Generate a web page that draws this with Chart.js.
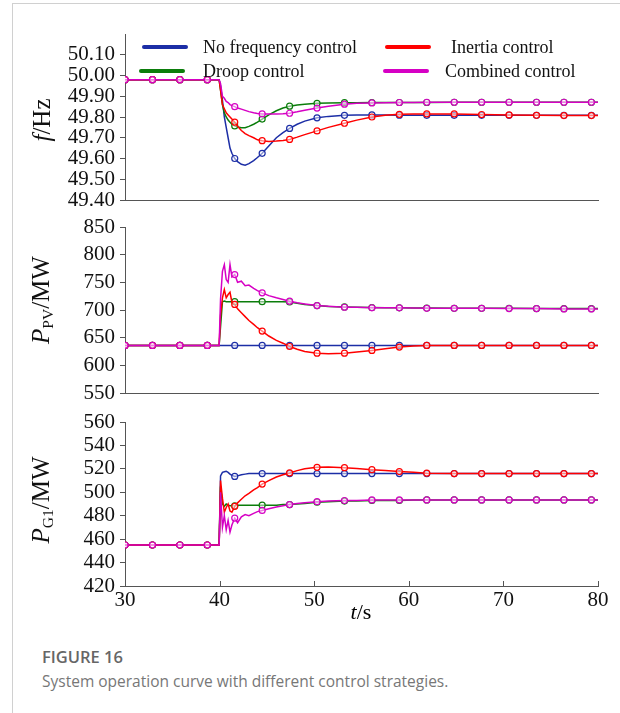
<!DOCTYPE html>
<html>
<head>
<meta charset="utf-8">
<script src="https://cdn.jsdelivr.net/npm/chart.js@4.4.1/dist/chart.umd.min.js"></script>
<style>
  body { margin: 0; background: #fff; }
  #wrap { position: relative; width: 620px; height: 713px; overflow: hidden; font-family: "Liberation Serif", serif; }
  #frame { position: absolute; left: 12px; top: 3px; right: -2px; bottom: -2px; border-left: 1px solid #d0d0d0; border-top: 1px solid #d0d0d0; }
  canvas { position: absolute; left: 0; }
  .yt { position: absolute; left: 42px; transform: translate(-50%, -50%) rotate(-90deg); white-space: nowrap; font-size: 25px; color: #111; }
  .yt sub { font-size: 0.62em; vertical-align: -0.25em; }
  .lg-line { position: absolute; height: 4px; width: 46px; border-radius: 2px; margin-top: -2px; }
  .lg-text { position: absolute; font-size: 18px; color: #111; transform: translateY(-50%); white-space: nowrap; }
  #xt { position: absolute; left: 361px; top: 612px; transform: translate(-50%, -50%); font-size: 22px; }
  #cap1 { position: absolute; left: 42px; top: 656px; transform: translateY(-50%); font-family: "Open Sans", sans-serif; font-weight: 600; font-size: 16.5px; color: #666; }
  #cap2 { position: absolute; left: 42px; top: 681px; transform: translateY(-50%); font-family: "Open Sans", sans-serif; font-size: 15.5px; color: #777; white-space: nowrap; }
</style>
</head>
<body>
<div id="wrap">
  <div id="frame"></div>
  <canvas id="cF" width="620" height="210" style="top:0px"></canvas>
  <canvas id="cPV" width="620" height="190" style="top:210px"></canvas>
  <canvas id="cG" width="620" height="230" style="top:400px"></canvas>

  <div class="yt" style="top:120px"><i>f</i>/Hz</div>
  <div class="yt" style="top:300px"><i>P</i><sub>PV</sub>/MW</div>
  <div class="yt" style="top:500px"><i>P</i><sub>G1</sub>/MW</div>

  <div class="lg-line" style="left:142px;top:47px;background:#1c2ea6"></div>
  <div class="lg-text" style="left:203px;top:47px">No frequency control</div>
  <div class="lg-line" style="left:385px;top:47px;background:#ff0000"></div>
  <div class="lg-text" style="left:451px;top:47px">Inertia control</div>
  <div class="lg-line" style="left:139px;top:71px;background:#0b7d0b"></div>
  <div class="lg-text" style="left:203px;top:71px">Droop control</div>
  <div class="lg-line" style="left:383px;top:71px;background:#d600c4"></div>
  <div class="lg-text" style="left:445px;top:71px">Combined control</div>

  <div id="xt"><i>t</i>/s</div>
  <div id="cap1">FIGURE 16</div>
  <div id="cap2">System operation curve with different control strategies.</div>
</div>

<script>
// time axis (s) and the times where markers are drawn
const T = [30, 32.9, 35.8, 38.7, 39.95, 40.1, 40.3, 40.5, 40.7, 40.9, 41.1, 41.3,
  41.6, 41.9, 42.3, 42.7, 43.1, 43.6, 44.0, 44.5, 45.2, 46.0, 46.7, 47.4, 48.2, 49.0,
  50.3, 51.5, 53.2, 54.5, 56.1, 57.5, 59.0, 60.5, 61.9, 64.8, 67.7, 70.6, 73.5, 76.4, 79.3, 80];
const MARK_T = [30, 32.9, 35.8, 38.7, 41.6, 44.5, 47.4, 50.3, 53.2, 56.1, 59.0, 61.9, 64.8, 67.7, 70.6, 73.5, 76.4, 79.3];

const SERIES = ["No frequency control", "Droop control", "Inertia control", "Combined control"];
const COLORS = ["#1c2ea6", "#0b7d0b", "#ff0000", "#d600c4"];
const DRAW_ORDER = [3, 2, 1, 0]; // combined on top, then inertia, droop, none

// frequency f / Hz
const F_NONE = [49.98, 49.98, 49.98, 49.98, 49.98, 49.95, 49.88, 49.80, 49.75, 49.70, 49.65, 49.625,
  49.60, 49.585, 49.572, 49.568, 49.575, 49.59, 49.605, 49.625, 49.66, 49.70, 49.725, 49.745, 49.765, 49.78,
  49.796, 49.803, 49.808, 49.81, 49.81, 49.81, 49.809, 49.808, 49.808, 49.808, 49.808, 49.808, 49.808, 49.808, 49.808, 49.808];
const F_DROOP = [49.98, 49.98, 49.98, 49.98, 49.98, 49.93, 49.86, 49.82, 49.80, 49.785, 49.775, 49.765,
  49.757, 49.752, 49.748, 49.748, 49.755, 49.765, 49.775, 49.79, 49.81, 49.83, 49.843, 49.852, 49.858, 49.862,
  49.866, 49.868, 49.869, 49.869, 49.87, 49.87, 49.87, 49.87, 49.87, 49.871, 49.871, 49.871, 49.871, 49.871, 49.871, 49.871];
const F_INERTIA = [49.98, 49.98, 49.98, 49.98, 49.98, 49.93, 49.86, 49.84, 49.82, 49.81, 49.80, 49.79,
  49.775, 49.755, 49.735, 49.72, 49.71, 49.70, 49.69, 49.686, 49.682, 49.684, 49.687, 49.692, 49.703, 49.715,
  49.733, 49.75, 49.77, 49.785, 49.80, 49.808, 49.813, 49.815, 49.815, 49.815, 49.812, 49.81, 49.808, 49.807, 49.807, 49.807];
const F_COMB = [49.98, 49.98, 49.98, 49.98, 49.98, 49.96, 49.90, 49.89, 49.875, 49.87, 49.86, 49.855,
  49.85, 49.843, 49.838, 49.832, 49.826, 49.82, 49.817, 49.815, 49.814, 49.815, 49.816, 49.818, 49.825, 49.833,
  49.843, 49.852, 49.862, 49.866, 49.868, 49.869, 49.87, 49.87, 49.871, 49.871, 49.871, 49.871, 49.871, 49.871, 49.871, 49.871];

// PV output P_PV / MW
const PV_NONE = [636, 636, 636, 636, 636, 636, 636, 636, 636, 636, 636, 636,
  636, 636, 636, 636, 636, 636, 636, 636, 636, 636, 636, 636, 636, 636,
  636, 636, 636, 636, 636, 636, 636, 636, 636, 636, 636, 636, 636, 636, 636, 636];
const PV_DROOP = [636, 636, 636, 636, 636, 670, 715, 716, 715, 715, 715, 715,
  715, 715, 715, 715, 715, 715, 715, 715, 715, 715, 715, 714.5, 712, 710,
  708, 706.5, 705.5, 705, 704.5, 704, 704, 703.5, 703.5, 703, 703, 703, 702.5, 702.5, 702.5, 702.5];
const PV_INERTIA = [636, 636, 636, 636, 636, 690, 722, 737, 722, 728, 732, 714,
  710, 702, 695, 688, 681, 674, 668, 662, 653, 645, 640, 634, 629, 625,
  622, 621, 622, 624, 627, 630, 633, 635, 636, 636, 636, 636, 636, 636, 636, 636];
const PV_COMB = [636, 636, 636, 636, 636, 720, 770, 782, 755, 750, 782, 760,
  764, 750, 752, 744, 745, 739, 735, 731, 726, 722, 719, 716, 713, 711,
  708, 707, 705, 705, 704, 704, 704, 703.5, 703, 703, 703, 702.5, 702.5, 702, 702, 702];

// generator G1 output P_G1 / MW
const G_NONE = [455, 455, 455, 455, 455, 514, 517, 517.5, 518, 517, 515.5, 514.5,
  513.5, 514, 515, 515.5, 516, 516, 516, 516, 516, 516, 516, 516, 516, 516,
  516, 516, 516, 516, 516, 516, 516, 516, 516, 516, 516, 516, 516, 516, 516, 516];
const G_DROOP = [455, 455, 455, 455, 455, 505, 490, 488, 490, 489, 488.5, 488.5,
  488.5, 489, 489, 489, 489, 489, 489, 489, 489, 489, 489.5, 489.5, 490, 490.5,
  491.5, 492, 492.5, 492.5, 493, 493, 493, 493.5, 493.5, 493.5, 493.5, 493.5, 493.5, 493.5, 493.5, 493.5];
const G_INERTIA = [455, 455, 455, 455, 455, 510, 495, 483, 487, 490, 484, 483,
  488, 491, 494, 497, 499, 502, 504, 507, 510, 513, 515, 516.5, 518.5, 520,
  521.3, 521.5, 521, 520.3, 519.3, 518.5, 517.7, 517, 516.3, 516, 516, 516, 516, 516, 516, 516];
const G_COMB = [455, 455, 455, 455, 455, 500, 470, 480, 468, 476, 466, 472,
  478, 474, 479, 481, 480, 482, 483.5, 484.5, 486, 487.5, 488.5, 489.5, 490.5, 491,
  492, 492.5, 493, 493, 493.5, 493.5, 493.5, 493.5, 493.5, 493.5, 493.5, 493.5, 493.5, 493.5, 493.5, 493.5];

const AXIS = "#555";
const TICK_FONT = { family: "Liberation Serif", size: 21 };

// small inward tick marks on the time axis
const xTicksIn = {
  id: "xTicksIn",
  afterDraw(chart) {
    const sx = chart.scales.x, c = chart.ctx, y = chart.chartArea.bottom;
    c.save();
    c.strokeStyle = AXIS;
    c.lineWidth = 1;
    sx.ticks.forEach(t => {
      const px = Math.round(sx.getPixelForValue(t.value)) + 0.5;
      c.beginPath();
      c.moveTo(px, y);
      c.lineTo(px, y - 5);
      c.stroke();
    });
    c.restore();
  }
};

function makePanel(id, values, yMin, yMax, step, pad, last, fmt, hideTop) {
  const datasets = values.map((arr, i) => ({
    label: SERIES[i],
    order: DRAW_ORDER[i],
    data: arr.map((v, k) => ({ x: T[k], y: v })),
    borderColor: COLORS[i],
    backgroundColor: "rgba(255,255,255,0.5)",
    borderWidth: 1.5,
    pointBorderColor: COLORS[i],
    pointBackgroundColor: "rgba(255,255,255,0.5)",
    pointBorderWidth: 1.2,
    pointRadius: ctx => MARK_T.includes(T[ctx.dataIndex]) ? 3 : 0,
    tension: 0
  }));

  return new Chart(document.getElementById(id), {
    type: "line",
    data: { datasets },
    plugins: last ? [xTicksIn] : [],
    options: {
      responsive: false,
      animation: false,
      events: [],
      layout: { padding: { left: 0, right: 22, top: pad[0], bottom: pad[1] } },
      plugins: { legend: { display: false }, tooltip: { enabled: false } },
      scales: {
        x: {
          type: "linear", min: 30, max: 80,
          afterFit: s => { s.height = last ? 30 : 0; s.paddingLeft = 0; s.paddingRight = 0; },
          ticks: { display: last, stepSize: 10, autoSkip: false, color: "#111", font: TICK_FONT, padding: 2, maxRotation: 0 },
          grid: { display: false, drawTicks: false, tickLength: 0 },
          border: { color: AXIS, width: 1 }
        },
        y: {
          min: yMin, max: yMax,
          afterFit: s => { s.width = 125; s.paddingTop = 0; s.paddingBottom = 0; },
          afterBuildTicks: s => { if (hideTop) s.ticks = s.ticks.filter(t => t.value < yMax - step / 2); },
          ticks: { stepSize: step, autoSkip: false, color: "#111", font: TICK_FONT, padding: 5, callback: fmt },
          grid: { drawOnChartArea: false, tickLength: 5, color: AXIS },
          border: { color: AXIS, width: 1 }
        }
      }
    }
  });
}

makePanel("cF", [F_NONE, F_DROOP, F_INERTIA, F_COMB], 49.4, 50.2, 0.1, [34, 10], false,
  v => Number(v).toFixed(2), true);
makePanel("cPV", [PV_NONE, PV_DROOP, PV_INERTIA, PV_COMB], 550, 850, 50, [17, 7], false,
  v => v, false);
makePanel("cG", [G_NONE, G_DROOP, G_INERTIA, G_COMB], 420, 560, 20, [22, 14], true,
  v => v, false);
</script>
</body>
</html>
